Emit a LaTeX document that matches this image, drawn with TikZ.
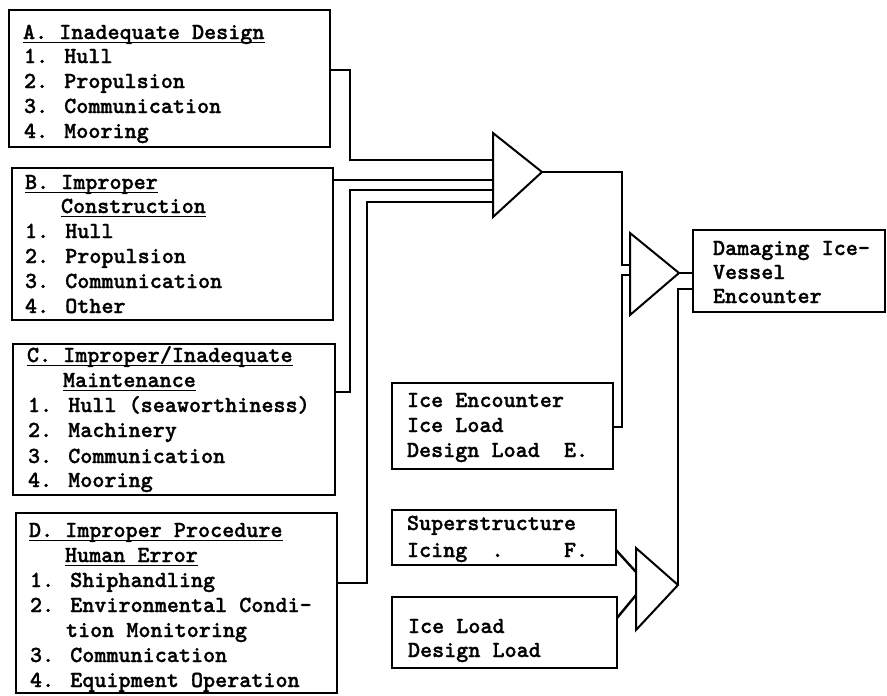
\documentclass[tikz,border=0pt]{standalone}
\usepackage{fontspec}
\newfontfamily\twfont{lmmonolt10-bold.otf}[FakeBold=1.2]
\usetikzlibrary{calc}
\begin{document}
\begin{tikzpicture}[x=1pt,y=-1pt,
  box/.style={draw, line width=2.2pt, outer sep=0pt, inner sep=0pt, anchor=north west},
  txt/.style={anchor=base west, inner sep=0pt, outer sep=0pt, font=\twfont\fontsize{23}{25}\selectfont},
  ln/.style={line width=2.4pt, line join=miter},
  tri/.style={line width=2pt, line join=miter},
  ul/.style={line width=1.8pt}]
\useasboundingbox[fill=white] (0,0) rectangle (887,696);
% boxes
\node[box, minimum width=321pt, minimum height=137pt] (A) at (9,10) {};
\node[box, minimum width=321pt, minimum height=152pt] (B) at (12,168) {};
\node[box, minimum width=322pt, minimum height=151pt] (C) at (13,344) {};
\node[box, minimum width=321pt, minimum height=180pt] (D) at (16,513) {};
\node[box, minimum width=221pt, minimum height=86pt] (E) at (392,383) {};
\node[box, minimum width=224pt, minimum height=55pt] (F) at (392,510) {};
\node[box, minimum width=225pt, minimum height=71pt] (G) at (392,597) {};
\node[box, minimum width=192pt, minimum height=82pt] (M) at (693,230) {};
% texts A
\node[txt] (A0) at (23,39) {A. Inadequate Design};
\node[txt] (A1) at (24,63) {1. Hull};
\node[txt] (A2) at (24,88) {2. Propulsion};
\node[txt] (A3) at (24,113) {3. Communication};
\node[txt] (A4) at (24,138) {4. Mooring};
% texts B
\node[txt] (B0) at (25,189) {B. Improper};
\node[txt] (B1) at (61,213) {Construction};
\node[txt] (B2) at (25,238) {1. Hull};
\node[txt] (B3) at (25,263) {2. Propulsion};
\node[txt] (B4) at (25,288) {3. Communication};
\node[txt] (B5) at (25,313) {4. Other};
% texts C
\node[txt] (C0) at (27,362) {C. Improper/Inadequate};
\node[txt] (C1) at (63,387) {Maintenance};
\node[txt] (C2) at (28,412) {1. Hull (seaworthiness)};
\node[txt] (C3) at (28,437) {2. Machinery};
\node[txt] (C4) at (28,463) {3. Communication};
\node[txt] (C5) at (28,487) {4. Mooring};
% texts D
\node[txt] (D0) at (29,537) {D. Improper Procedure};
\node[txt] (D1) at (65,562) {Human Error};
\node[txt] (D2) at (30,587) {1. Shiphandling};
\node[txt] (D3) at (30,612) {2. Environmental Condi-};
\node[txt] (D4) at (66,637) {tion Monitoring};
\node[txt] (D5) at (30,662) {3. Communication};
\node[txt] (D6) at (30,687) {4. Equipment Operation};
% texts E F G M
\node[txt] (E0) at (407,407) {Ice Encounter};
\node[txt] (E1) at (407,432) {Ice Load};
\node[txt] (E2) at (407,457) {Design Load~~E.};
\node[txt] (F0) at (407,530) {Superstructure};
\node[txt] (F1) at (407,557) {Icing~~.~~~~~F.};
\node[txt] (G0) at (408,633) {Ice Load};
\node[txt] (G1) at (408,657) {Design Load};
\node[txt] (M0) at (713,255) {Damaging Ice-};
\node[txt] (M1) at (713,279) {Vessel};
\node[txt] (M2) at (713,303) {Encounter};
% underlines
\foreach \n in {A0,B0,B1,C0,C1,D0,D1}
  \draw[ul] ([yshift=-3.5pt]\n.base west) -- ([yshift=-3.5pt]\n.base east);
% triangles
\coordinate (T1top) at (493,133);
\coordinate (T1bot) at (493,217);
\coordinate (T1apex) at (542,172);
\coordinate (T2top) at (630,233);
\coordinate (T2bot) at (630,315);
\coordinate (T2apex) at (679,273);
\coordinate (T3top) at (636,548);
\coordinate (T3bot) at (636,630);
\coordinate (T3apex) at (678,585);
\draw[tri] (T1top) -- (T1apex) -- (T1bot) -- cycle;
\draw[tri] (T2top) -- (T2apex) -- (T2bot) -- cycle;
\draw[tri] (T3top) -- (T3apex) -- (T3bot) -- cycle;
% inputs
\coordinate (T1a) at (493,160);
\coordinate (T1b) at (493,180);
\coordinate (T1c) at (493,190);
\coordinate (T1d) at (493,202);
\coordinate (T2a) at (630,265);
\coordinate (T2b) at (630,275);
\coordinate (T3f) at (636,572);
\coordinate (T3g) at (636,595);
\coordinate (busA) at (350,0);
\coordinate (busD) at (367,0);
\coordinate (busE) at (622,0);
% connectors
\draw[ln] ([yshift=-60pt]A.north east) -| (busA |- T1a) -- (T1a);
\draw[ln] (B.east |- T1b) -- (T1b);
\draw[ln] ([yshift=-48pt]C.north east) -| (busA |- T1c) -- (T1c);
\draw[ln] ([yshift=-70pt]D.north east) -| (busD |- T1d) -- (T1d);
\draw[ln] (T1apex) -| (busE |- T2a) -- (T2a);
\draw[ln] ([yshift=-44pt]E.north east) -| (busE |- T2b) -- (T2b);
\draw[ln] (T2apex) -- (M.west |- T2apex);
\draw[ln] (T3apex) |- ([yshift=-59pt]M.north west);
\draw[ln] ([yshift=-40pt]F.north east) -- (T3f);
\draw[ln] ([yshift=-21pt]G.north east) -- (T3g);
\end{tikzpicture}
\end{document}
